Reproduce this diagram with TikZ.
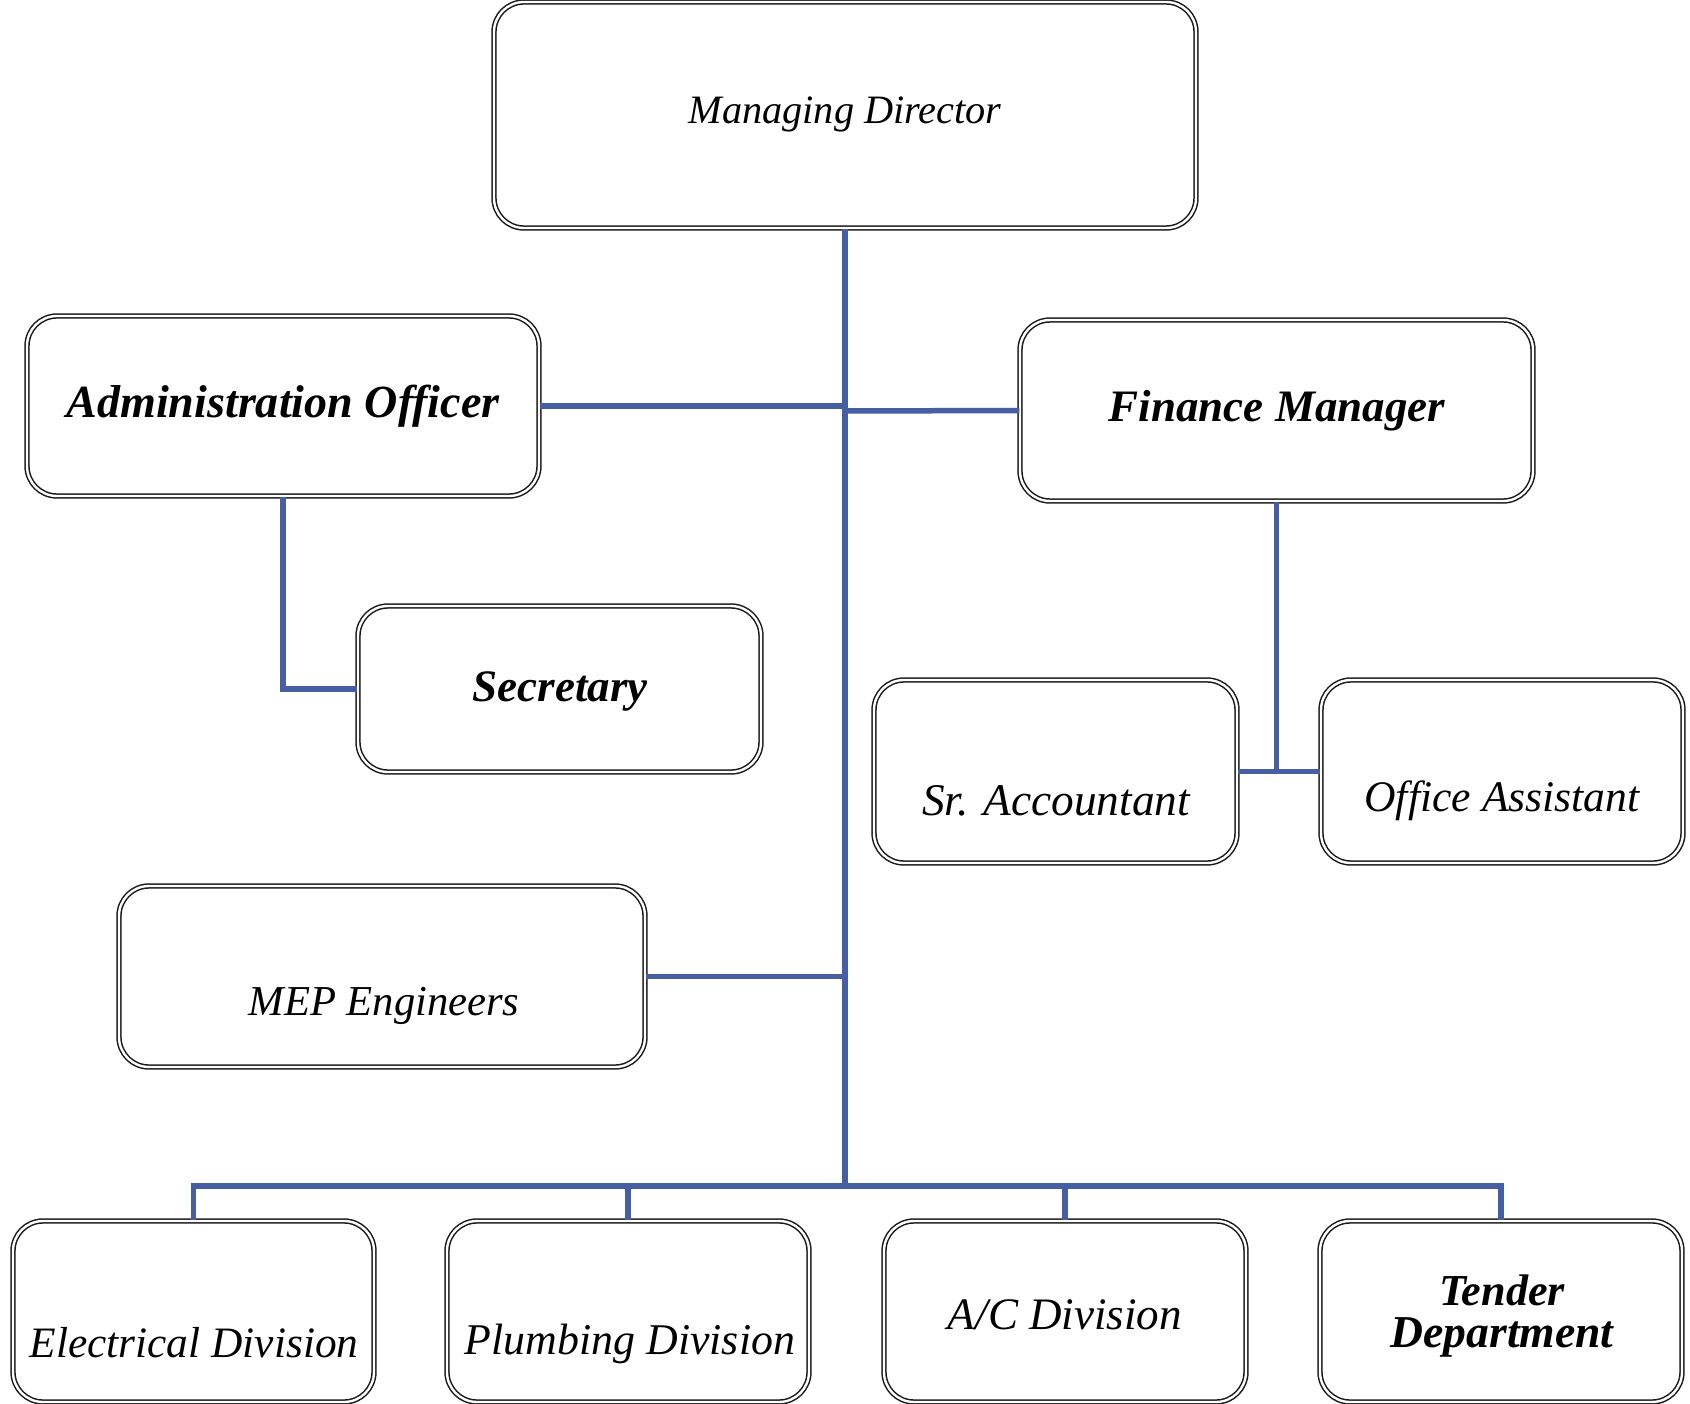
\documentclass[tikz,border=0pt]{standalone}
\usepackage{fontspec}
\setmainfont{Liberation Serif}
\usepackage{graphicx}
\definecolor{linkblue}{RGB}{70,94,162}
\newcommand{\fitw}[2]{\resizebox{#1pt}{!}{#2}}
\begin{document}
\begin{tikzpicture}[x=1pt,y=-1pt,
  box/.style={draw=black!90, double=white, double distance=2.4pt, line width=1.5pt,
    rounded corners=30pt, rectangle, inner sep=0pt, fill=white},
  lbl/.style={inner sep=0pt, font=\itshape},
  blbl/.style={inner sep=0pt, font=\itshape\bfseries},
  link/.style={draw=linkblue, line width=5.5pt}]
\fill[white] (0,0) rectangle (1690,1404);
\useasboundingbox (0,0) rectangle (1690,1404);

% boxes
\node[box, minimum width=702, minimum height=226] (md) at (845,115) {};
\node[box, minimum width=512, minimum height=180] (ao) at (283,406) {};
\node[box, minimum width=513, minimum height=181] (fm) at (1276.5,410.5) {};
\node[box, minimum width=403, minimum height=166] (sec) at (559.5,689) {};
\node[box, minimum width=363, minimum height=183] (sa) at (1055.5,771.5) {};
\node[box, minimum width=362, minimum height=183] (oa) at (1502,771.5) {};
\node[box, minimum width=526, minimum height=181] (mep) at (382,976.5) {};
\node[box, minimum width=361, minimum height=181] (el) at (193.5,1311.5) {};
\node[box, minimum width=362, minimum height=181] (pl) at (628,1311.5) {};
\node[box, minimum width=362, minimum height=181] (ac) at (1065,1311.5) {};
\node[box, minimum width=362, minimum height=181] (td) at (1501,1311.5) {};

% texts
\node[lbl] (mdt) at (845,114) {\fitw{313}{Managing Director}};
\node[blbl] (aot) at (283,406) {\fitw{433}{Administration Officer}};
\node[blbl] (fmt) at (1277,411) {\fitw{336}{Finance Manager}};
\node[blbl] (sect) at (560,691) {\fitw{175}{Secretary}};
\node[lbl] (sat) at (1056,801) {\fitw{268}{Sr. Accountant}};
\node[lbl] (oat) at (1502,801) {\fitw{275}{Office Assistant}};
\node[lbl] (mept) at (384,1006) {\fitw{271}{MEP Engineers}};
\node[lbl] (elt) at (194,1343) {\fitw{329}{Electrical Division}};
\node[lbl] (plt) at (630,1344) {\fitw{330}{Plumbing Division}};
\node[lbl] (act) at (1065,1315) {\fitw{234}{A/C Division}};
\node[blbl] (tdt1) at (1502,1290) {\fitw{126}{Tender}};
\node[blbl] (tdt2) at (1502,1337) {\fitw{223}{Department}};

% connectors
\coordinate (bus) at (845,1186);
\coordinate (jao) at (845,406);
\coordinate (jfm) at (845,411);
\coordinate (jmep) at (845,976.5);
\draw[link] (md.south) -- (bus);
\draw[link] (ao.east) -- (jao);
\draw[link] (fm.west) -- (jfm);
\draw[link] (mep.east) -- (jmep);
\draw[link] (ao.south) |- (sec.west);
\draw[link] (fm.south) -- (fm.south |- sa.east);
\draw[link] (sa.east) -- (oa.west);
\draw[link] (el.north) |- (bus) -| (td.north);
\draw[link] (pl.north) -- (pl.north |- bus);
\draw[link] (ac.north) -- (ac.north |- bus);
\end{tikzpicture}
\end{document}
